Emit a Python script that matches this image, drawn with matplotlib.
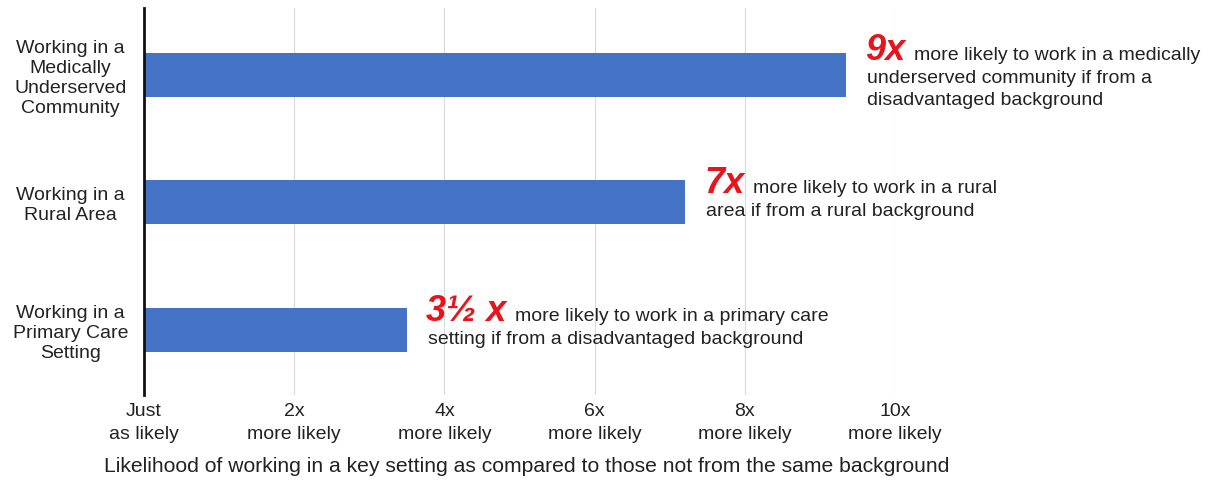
import matplotlib
matplotlib.use('Agg')
from matplotlib import pyplot as plt

plt.rcParams['font.family'] = ['Liberation Sans', 'DejaVu Sans']

categories = ['Working in a\nMedically\nUnderserved\nCommunity',
              'Working in a\nRural Area',
              'Working in a\nPrimary Care\nSetting']
likelihood = [9.35, 7.2, 3.5]
headlines = ['9x', '7x', '3½ x']
note_lines = [['more likely to work in a medically',
               'underserved community if from a',
               'disadvantaged background'],
              ['more likely to work in a rural',
               'area if from a rural background'],
              ['more likely to work in a primary care',
               'setting if from a disadvantaged background']]
tick_values = [0, 2, 4, 6, 8, 10]
tick_labels = ['Just\nas likely', '2x\nmore likely', '4x\nmore likely',
               '6x\nmore likely', '8x\nmore likely', '10x\nmore likely']
x_title = ('Likelihood of working in a key setting as compared '
           'to those not from the same background')

W, H = 1228, 483
fig = plt.figure(figsize=(W / 100, H / 100), dpi=100)
ax = fig.add_axes([144 / W, 1 - 395 / H, (895 - 144) / W, (395 - 8) / H])

bar_color = '#4472c4'
red = '#e8141b'
text_color = '#222222'
fs = 14

y = list(range(len(categories)))
ax.barh(y, likelihood, height=0.345, color=bar_color, zorder=2)

ax.set_xlim(0, 10)
ax.set_ylim(2.51, -0.525)
ax.set_xticks(tick_values)
ax.set_xticklabels(tick_labels, fontsize=fs, color=text_color, linespacing=1.4)
ax.set_yticks(y)
ax.set_yticklabels(categories, fontsize=fs, color=text_color, linespacing=1.22)
for lbl in ax.get_yticklabels():
    lbl.set_ha('center')
ax.tick_params(axis='y', length=0, pad=53)
ax.tick_params(axis='x', length=0, pad=6)

ax.grid(axis='x', color='#dcdcdc', linewidth=0.9, zorder=0)
for s in ['top', 'right', 'bottom']:
    ax.spines[s].set_visible(False)
ax.spines['left'].set_linewidth(2)
ax.spines['left'].set_color('#111111')
ax.spines['left'].set_zorder(3)

# headline number, first line beside it, remaining lines below (offsets in points)
step = 16.5
for i, val in enumerate(likelihood):
    lines = note_lines[i]
    top = (len(lines) - 1) * step / 2 - 1.5 - (len(lines) - 2) * 4
    head = ax.annotate(headlines[i], xy=(val, i), xytext=(14, top),
                       textcoords='offset points', ha='left', va='baseline',
                       fontsize=26, fontweight='bold', fontstyle='italic',
                       color=red, annotation_clip=False)
    ax.annotate(lines[0], xy=(1, i), xycoords=(head, 'data'),
                xytext=(6, top), textcoords='offset points',
                ha='left', va='baseline', fontsize=fs, color=text_color,
                annotation_clip=False)
    for k, line in enumerate(lines[1:], start=1):
        ax.annotate(line, xy=(0, i), xycoords=(head, 'data'),
                    xytext=(1, top - k * step), textcoords='offset points',
                    ha='left', va='baseline', fontsize=fs, color=text_color,
                    annotation_clip=False)

fig.text(527 / W, 1 - 466 / H, x_title, ha='center', va='center',
         fontsize=15.2, color=text_color)

fig.savefig('out.png', dpi=100, facecolor='white')
